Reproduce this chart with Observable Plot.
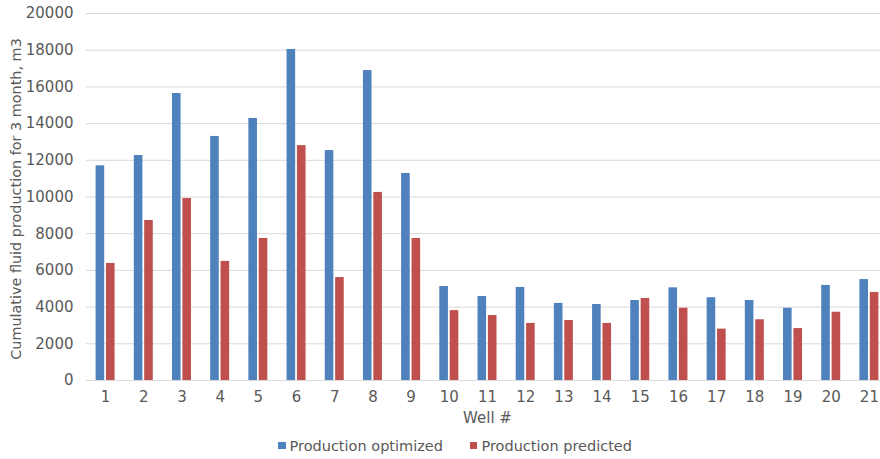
<!DOCTYPE html>
<html>
<head>
<meta charset="utf-8">
<script src="https://cdn.jsdelivr.net/npm/d3@7"></script>
<script src="https://cdn.jsdelivr.net/npm/@observablehq/plot@0.6"></script>
<style>
  html, body { margin: 0; padding: 0; background: #fff; }
  body { width: 880px; height: 459px; overflow: hidden; font-family: "DejaVu Sans", sans-serif; color: #595959; }
  #chart svg { display: block; }
  .legend { height: 27px; display: flex; justify-content: center; align-items: center; padding-left: 30px; font-size: 14.5px; color: #595959; }
  .legend .item { display: flex; align-items: center; }
  .legend .item + .item { margin-left: 27px; }
  .legend .sw { width: 7.5px; height: 7.5px; margin-right: 4px; }
</style>
</head>
<body>
<div id="chart"></div>
<div class="legend" id="legend"></div>
<script>
const wells = ["1","2","3","4","5","6","7","8","9","10","11","12","13","14","15","16","17","18","19","20","21"];
const optimized = [11700, 12260, 15640, 13300, 14280, 18040, 12530, 16890, 11280, 5120, 4580, 5070, 4200, 4140, 4360, 5050, 4510, 4360, 3940, 5180, 5500];
const predicted = [6380, 8720, 9920, 6490, 7740, 12800, 5610, 10250, 7740, 3810, 3540, 3110, 3270, 3110, 4470, 3940, 2800, 3310, 2830, 3720, 4800];
const yTicks = [0, 2000, 4000, 6000, 8000, 10000, 12000, 14000, 16000, 18000, 20000];
const seriesNames = ["Production optimized", "Production predicted"];
const seriesColors = ["#4F81BD", "#C0504D"];
const xLabel = "Well #";
const yLabel = "Cumulative fluid production for 3 month, m3";

const optData = wells.map((w, i) => ({well: w, value: optimized[i]}));
const predData = wells.map((w, i) => ({well: w, value: predicted[i]}));

const chart = Plot.plot({
  width: 880,
  height: 432,
  marginLeft: 86,
  marginRight: -8,
  marginTop: 13,
  marginBottom: 52,
  style: {fontFamily: "DejaVu Sans", fontSize: "15px", color: "#595959", background: "white", overflow: "hidden"},
  x: {domain: wells, padding: 0, round: false, tickSize: 0, tickPadding: 11, label: null},
  y: {domain: [0, 20000], ticks: yTicks, tickSize: 0, tickPadding: 13, label: null, tickFormat: d => String(d)},
  marks: [
    Plot.ruleY(yTicks, {stroke: "#d9d9d9", strokeWidth: 1}),
    Plot.barY(optData, {x: "well", y: "value", fill: seriesColors[0], insetLeft: 9.6, insetRight: 20}),
    Plot.barY(predData, {x: "well", y: "value", fill: seriesColors[1], insetLeft: 20, insetRight: 9.6}),
    Plot.text([xLabel], {frameAnchor: "bottom", dy: 42, fill: "#595959", fontSize: 15}),
    Plot.text([yLabel], {frameAnchor: "left", textAnchor: "middle", rotate: -90, dx: -70, dy: 2, fill: "#595959", fontSize: 14.4})
  ]
});
document.getElementById("chart").appendChild(chart);

const legend = document.getElementById("legend");
seriesNames.forEach((name, i) => {
  const item = document.createElement("div");
  item.className = "item";
  const sw = document.createElement("span");
  sw.className = "sw";
  sw.style.background = seriesColors[i];
  const label = document.createElement("span");
  label.textContent = name;
  item.appendChild(sw);
  item.appendChild(label);
  legend.appendChild(item);
});
</script>
</body>
</html>
